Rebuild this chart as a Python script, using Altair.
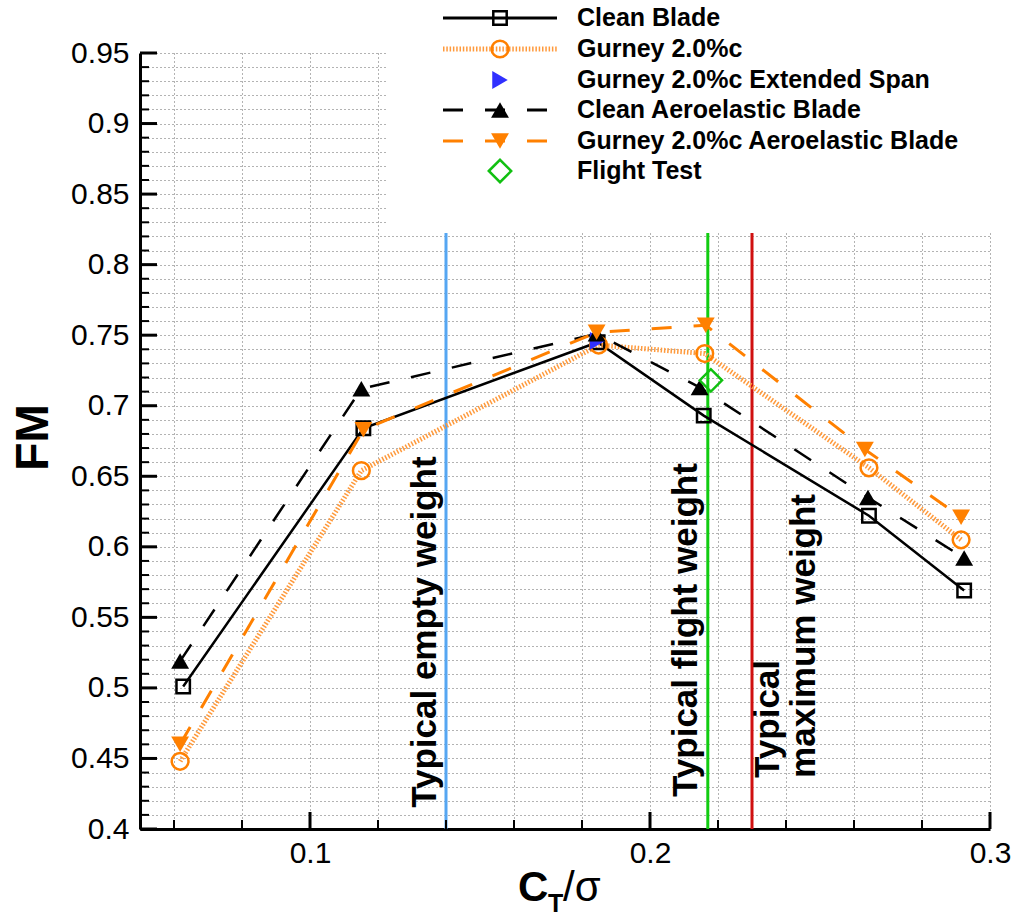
import altair as alt
import pandas as pd

# ---------------- data ----------------
ct_clean = [0.0627, 0.1157, 0.1846, 0.2158, 0.2644, 0.2924]
fm_clean = [0.501, 0.684, 0.745, 0.693, 0.622, 0.569]

ct_gurney = [0.0618, 0.1151, 0.1849, 0.2161, 0.2644, 0.2915]
fm_gurney = [0.448, 0.654, 0.743, 0.737, 0.656, 0.605]

ct_ext = [0.1846]
fm_ext = [0.746]

ct_clean_ae = [0.0618, 0.1151, 0.1843, 0.2146, 0.2641, 0.2924]
fm_clean_ae = [0.519, 0.712, 0.751, 0.713, 0.635, 0.592]

ct_gurney_ae = [0.0618, 0.1157, 0.1843, 0.2164, 0.2632, 0.2915]
fm_gurney_ae = [0.460, 0.683, 0.752, 0.757, 0.669, 0.621]

ct_flight = [0.2179]
fm_flight = [0.718]

ref_ct = [0.14, 0.217, 0.23]
ref_colors = ["#55a6f2", "#11cc11", "#d01010"]

note_text = ["Typical empty weight", "Typical flight weight", "Typical", "maximum weight"]
note_ct = [0.1339, 0.2105, 0.2347, 0.2453]
note_fm = [0.415, 0.4227, 0.4362, 0.4362]

legend_names = ["Clean Blade", "Gurney 2.0%c", "Gurney 2.0%c Extended Span",
                "Clean Aeroelastic Blade", "Gurney 2.0%c Aeroelastic Blade", "Flight Test"]

x_major = [0.1, 0.2, 0.3]
x_minor = [0.06, 0.08, 0.12, 0.14, 0.16, 0.18, 0.22, 0.24, 0.26, 0.28]
y_major = [0.4, 0.45, 0.5, 0.55, 0.6, 0.65, 0.7, 0.75, 0.8, 0.85, 0.9, 0.95]
y_all = [round(0.40 + 0.01 * i, 2) for i in range(56)]
y_minor = [v for v in y_all if v not in y_major]
x_all = sorted(x_major + x_minor)

# ---------------- layout ----------------
W, H = 850, 776
X0, Y0 = 140, 53
FONT = "Liberation Sans"
ORANGE = "#ff8000"

xs = alt.Scale(domain=[0.05, 0.3], nice=False, zero=False)
ys = alt.Scale(domain=[0.4, 0.95], nice=False, zero=False)

xaxis = alt.Axis(values=x_all, grid=True, gridDash=[1, 3], gridColor="#666", gridWidth=1,
                 ticks=False, domainColor="black", domainWidth=3,
                 labelExpr="abs(datum.value*10 - round(datum.value*10)) < 1e-6 ? format(datum.value, '.1f') : ''",
                 labelFont=FONT, labelFontSize=30, labelColor="black", labelPadding=9,
                 labelFlush=False, labelOverlap=False, title=None)
yaxis = alt.Axis(values=y_all, grid=True, gridDash=[1, 3], gridColor="#666", gridWidth=1,
                 ticks=False, domainColor="black", domainWidth=3,
                 labelExpr="abs(datum.value*20 - round(datum.value*20)) < 1e-6 ? format(datum.value, '.2~f') : ''",
                 labelFont=FONT, labelFontSize=30, labelColor="black", labelPadding=11,
                 labelFlush=False, labelOverlap=False,
                 title="FM", titleFont=FONT, titleFontSize=46, titleFontWeight="bold",
                 titleColor="black", titleX=33 - X0, titleY=437 - Y0, titleBaseline="middle",
                 titleAlign="center", titleAngle=270)


def X():
    return alt.X("ct:Q", scale=xs, axis=xaxis)


def Y():
    return alt.Y("fm:Q", scale=ys, axis=yaxis)


def df(ct, fm):
    return pd.DataFrame({"ct": ct, "fm": fm})


layers = []

# reference vertical lines
df_ref = pd.DataFrame({"ct": ref_ct, "col": ref_colors})
layers.append(alt.Chart(df_ref).mark_rule(strokeWidth=3).encode(
    x=X(), color=alt.Color("col:N", scale=None)))

# legend white box
layers.append(alt.Chart(df_ref).mark_rect(color="white").encode(
    x=alt.value(386 - X0), x2=alt.value(W + 60), y=alt.value(-Y0), y2=alt.value(233 - Y0)))

# series definitions
series = [
    dict(ct=ct_clean, fm=fm_clean, color="black", dash=None, width=2.5, shape="square",
         filled=False, size=180),
    dict(ct=ct_gurney, fm=fm_gurney, color="#ff9a3c", dash=[1.5, 1.8], width=5, shape="circle",
         filled=False, size=280),
    dict(ct=ct_ext, fm=fm_ext, color="#3030ff", dash=None, width=0, shape="triangle-right",
         filled=True, size=320),
    dict(ct=ct_clean_ae, fm=fm_clean_ae, color="black", dash=[20, 22], width=2.5,
         shape="triangle-up", filled=True, size=320),
    dict(ct=ct_gurney_ae, fm=fm_gurney_ae, color=ORANGE, dash=[20, 22], width=3,
         shape="triangle-down", filled=True, size=320),
    dict(ct=ct_flight, fm=fm_flight, color="#11c011", dash=None, width=0, shape="diamond",
         filled=False, size=500),
]

# lines
for s in series:
    if s["width"] > 0:
        kw = dict(color=s["color"], strokeWidth=s["width"])
        if s["dash"]:
            kw["strokeDash"] = s["dash"]
        layers.append(alt.Chart(df(s["ct"], s["fm"])).mark_line(**kw).encode(x=X(), y=Y()))

# markers
marker_color = {"circle": ORANGE}
for s in series:
    mc = marker_color.get(s["shape"], s["color"])
    layers.append(alt.Chart(df(s["ct"], s["fm"])).mark_point(
        shape=s["shape"], filled=s["filled"], size=s["size"], color=mc,
        strokeWidth=2.5, opacity=1).encode(x=X(), y=Y()))

# rotated annotations
df_note = pd.DataFrame({"ct": note_ct, "fm": note_fm, "t": note_text})
layers.append(alt.Chart(df_note).mark_text(
    angle=270, align="left", baseline="middle", font=FONT, fontSize=35,
    fontWeight="bold", color="black").encode(x=X(), y=Y(), text="t:N"))

# inward ticks
layers.append(alt.Chart(pd.DataFrame({"ct": x_minor})).mark_rule(color="black", strokeWidth=2).encode(
    x=X(), y=alt.value(H), y2=alt.value(H - 9)))
layers.append(alt.Chart(pd.DataFrame({"ct": x_major})).mark_rule(color="black", strokeWidth=3).encode(
    x=X(), y=alt.value(H), y2=alt.value(H - 17)))
layers.append(alt.Chart(pd.DataFrame({"fm": y_minor})).mark_rule(color="black", strokeWidth=2).encode(
    y=Y(), x=alt.value(0), x2=alt.value(9)))
layers.append(alt.Chart(pd.DataFrame({"fm": y_major})).mark_rule(color="black", strokeWidth=3).encode(
    y=Y(), x=alt.value(0), x2=alt.value(17)))

# x title: C_T / sigma
one = pd.DataFrame({"a": [0]})
layers.append(alt.Chart(one).mark_text(text="C", font=FONT, fontSize=42, fontWeight="bold",
                                       align="left", baseline="alphabetic", color="black").encode(
    x=alt.value(518 - X0), y=alt.value(901 - Y0)))
layers.append(alt.Chart(one).mark_text(text="T", font=FONT, fontSize=25, fontWeight="bold",
                                       align="left", baseline="alphabetic", color="black").encode(
    x=alt.value(548 - X0), y=alt.value(912 - Y0)))
layers.append(alt.Chart(one).mark_text(text="/σ", font=FONT, fontSize=42,
                                       align="left", baseline="alphabetic", color="black").encode(
    x=alt.value(563 - X0), y=alt.value(901 - Y0)))

# manual legend
row_y = [18, 49, 80, 110, 141, 171]
LX1, LX2, LSYM, LTXT = 443, 557, 500, 577
for s, name, ry in zip(series, legend_names, row_y):
    yy = ry - Y0
    if s["width"] > 0:
        kw = dict(color=s["color"], strokeWidth=max(s["width"], 3))
        if s["dash"]:
            kw["strokeDash"] = s["dash"]
        layers.append(alt.Chart(one).mark_rule(**kw).encode(
            x=alt.value(LX1 - X0), x2=alt.value(LX2 - X0), y=alt.value(yy)))
    mc = marker_color.get(s["shape"], s["color"])
    layers.append(alt.Chart(one).mark_point(
        shape=s["shape"], filled=s["filled"], size=s["size"], color=mc,
        strokeWidth=2.5, opacity=1).encode(x=alt.value(LSYM - X0), y=alt.value(yy)))
    layers.append(alt.Chart(one).mark_text(
        text=name, font=FONT, fontSize=25, fontWeight="bold", align="left",
        baseline="middle", color="black").encode(x=alt.value(LTXT - X0), y=alt.value(yy)))

chart = alt.layer(*layers).properties(
    width=W, height=H,
    autosize=alt.AutoSizeParams(type="none"),
    padding={"left": X0, "top": Y0, "right": 1015 - X0 - W, "bottom": 918 - Y0 - H},
    background="white",
).configure_view(stroke=None)

chart.save("out.html", embed_options={"renderer": "svg", "actions": False})
